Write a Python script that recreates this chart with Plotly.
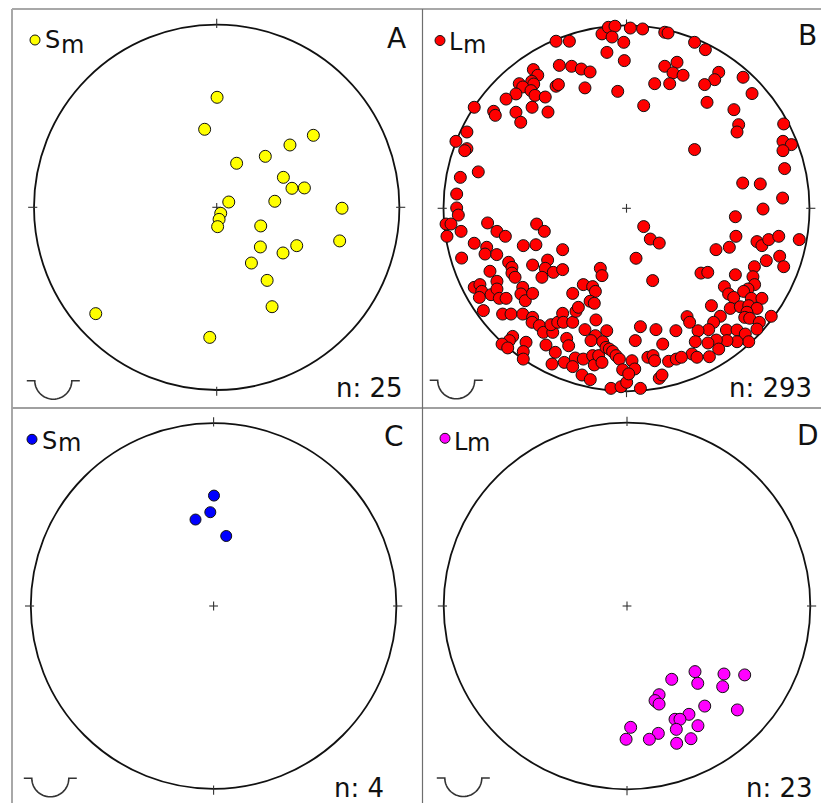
import numpy as np
import plotly.graph_objects as go

W, H = 821, 803

# ---------------- data: projected positions on the unit net (east, north) ----------------
A_east = [0.002, -0.066, 0.529, 0.401, 0.266, 0.109, 0.365, 0.412, 0.480, 0.066,
          0.318, 0.686, 0.022, 0.013, 0.005, 0.241, 0.673, 0.239, 0.438, 0.363,
          0.190, 0.276, 0.303, -0.662, -0.038]
A_north = [0.602, 0.427, 0.394, 0.341, 0.279, 0.241, 0.164, 0.104, 0.106, 0.029,
           0.033, -0.005, -0.033, -0.066, -0.106, -0.102, -0.184, -0.217, -0.210, -0.250,
           -0.305, -0.400, -0.544, -0.582, -0.712]

B_east = [
    -0.385, -0.312, -0.134, -0.099, -0.063, -0.079, -0.015, -0.107, -0.012, -0.048,
    -0.367, -0.300, -0.247, -0.199, -0.509, -0.485, -0.586, -0.518, -0.507, -0.567,
    -0.522, -0.500, -0.604, -0.658, -0.444, -0.385, -0.372, -0.227, -0.516, -0.429,
    -0.604, -0.578, -0.726, -0.717, -0.832, -0.872, -0.932, -0.872, -0.884, -0.810,
    -0.908, -0.928,
    0.021, 0.088, 0.209, 0.227, 0.372, 0.431, 0.209, 0.276, 0.254, 0.309,
    0.154, 0.236, 0.504, 0.482, 0.427, 0.637, 0.686, 0.094, 0.440, 0.587,
    0.613, 0.604, 0.859, 0.855, 0.901, 0.855, 0.864, 0.372, 0.635, 0.731,
    0.853,
    -0.928, -0.919, -0.986, -0.959, -0.981, -0.904, -0.759, -0.708, -0.662, -0.491,
    -0.449, -0.832, -0.764, -0.773, -0.709, -0.901, -0.564, -0.495, -0.349, -0.431,
    -0.513, -0.644, -0.626, -0.626, -0.609, -0.444, -0.400, -0.349, -0.462, -0.746,
    -0.708, -0.832, -0.801, -0.791, -0.804, -0.740, -0.708, -0.695, -0.658, -0.567,
    -0.577, -0.553, -0.513, -0.782, -0.677, -0.631, -0.567, -0.513, -0.516, -0.476,
    -0.454, -0.403, -0.413, -0.376, -0.349, -0.345, -0.294, -0.276, -0.263, -0.294,
    -0.236, -0.185, -0.170, -0.199, -0.176, -0.143, -0.134, -0.167, -0.227, -0.170,
    -0.108, -0.194, -0.130, -0.327, -0.316, -0.440, -0.389, -0.622, -0.640, -0.680,
    -0.649, -0.549, -0.564, -0.564, -0.407, -0.340, -0.280, -0.236, -0.294, -0.243,
    -0.198, -0.185, -0.176, -0.152, -0.134, -0.112, -0.094, -0.076, -0.057, -0.039,
    -0.021, -0.085, -0.030, 0.001,
    0.746, 0.595, 0.094, 0.130, 0.179, 0.598, 0.562, 0.489, 0.713, 0.740,
    0.777, 0.832, 0.944, 0.052, 0.764, 0.837, 0.859, 0.699, 0.407, 0.444,
    0.595, 0.691, 0.143, 0.700, 0.535, 0.558, 0.586, 0.664, 0.640, 0.682,
    0.740, 0.464, 0.567, 0.622, 0.668, 0.713, 0.658, 0.646, 0.673, 0.791,
    0.726, 0.713, 0.513, 0.331, 0.345, 0.476, 0.449, 0.391, 0.076, 0.161,
    0.270, 0.546, 0.604, 0.649, 0.668, 0.604, 0.549, 0.491, 0.445, 0.376,
    0.504, 0.048, 0.198, 0.358, 0.385, 0.453, 0.117, 0.145, 0.154, 0.230,
    0.272, 0.300, 0.030, 0.045, 0.012, 0.076, 0.179, 0.194,
]
B_north = [
    0.913, 0.913, 0.953, 0.989, 0.995, 0.936, 0.907, 0.852, 0.807, 0.639,
    0.781, 0.776, 0.761, 0.745, 0.758, 0.727, 0.681, 0.694, 0.679, 0.663,
    0.643, 0.617, 0.625, 0.597, 0.608, 0.667, 0.676, 0.658, 0.552, 0.526,
    0.525, 0.470, 0.530, 0.508, 0.552, 0.417, 0.366, 0.326, 0.315, 0.199,
    0.169, 0.078,
    0.985, 0.980, 0.962, 0.958, 0.907, 0.867, 0.776, 0.798, 0.740, 0.727,
    0.681, 0.681, 0.743, 0.703, 0.676, 0.716, 0.627, 0.561, 0.579, 0.539,
    0.457, 0.417, 0.461, 0.366, 0.348, 0.315, 0.217, 0.321, 0.138, 0.133,
    0.056,
    0.002, -0.037, -0.086, -0.086, -0.153, -0.126, -0.080, -0.126, -0.153, -0.086,
    -0.126, -0.191, -0.213, -0.250, -0.253, -0.272, -0.204, -0.199, -0.226, -0.283,
    -0.310, -0.295, -0.323, -0.354, -0.377, -0.328, -0.350, -0.335, -0.377, -0.344,
    -0.399, -0.432, -0.417, -0.454, -0.487, -0.472, -0.441, -0.492, -0.492, -0.432,
    -0.468, -0.505, -0.465, -0.559, -0.578, -0.578, -0.578, -0.596, -0.623, -0.641,
    -0.678, -0.678, -0.636, -0.623, -0.574, -0.623, -0.623, -0.563, -0.541, -0.465,
    -0.417, -0.428, -0.454, -0.508, -0.519, -0.328, -0.368, -0.610, -0.663, -0.696,
    -0.669, -0.723, -0.729, -0.711, -0.751, -0.747, -0.787, -0.700, -0.723, -0.742,
    -0.763, -0.732, -0.783, -0.824, -0.851, -0.842, -0.818, -0.824, -0.865, -0.911,
    -0.936, -0.805, -0.856, -0.805, -0.842, -0.760, -0.769, -0.782, -0.805, -0.824,
    -0.882, -0.984, -0.975, -0.951,
    -0.004, -0.046, -0.100, -0.168, -0.190, -0.153, -0.213, -0.226, -0.182, -0.204,
    -0.171, -0.153, -0.171, -0.273, -0.286, -0.262, -0.319, -0.319, -0.354, -0.350,
    -0.363, -0.374, -0.395, -0.417, -0.428, -0.468, -0.487, -0.441, -0.454, -0.492,
    -0.492, -0.532, -0.547, -0.538, -0.532, -0.547, -0.568, -0.596, -0.601, -0.590,
    -0.623, -0.660, -0.590, -0.592, -0.623, -0.623, -0.663, -0.669, -0.647, -0.663,
    -0.669, -0.665, -0.665, -0.687, -0.729, -0.729, -0.723, -0.720, -0.736, -0.729,
    -0.769, -0.723, -0.742, -0.796, -0.814, -0.811, -0.814, -0.805, -0.833, -0.836,
    -0.824, -0.814, -0.833, -0.878, -0.905, -0.984, -0.929, -0.911,
]

C_east = [0.002, -0.018, -0.099, 0.069]
C_north = [0.604, 0.513, 0.473, 0.383]

D_east = [0.164, 0.244, 0.371, 0.529, 0.642, 0.386, 0.522, 0.175, 0.153, 0.175,
          0.424, 0.602, 0.338, 0.262, 0.289, 0.387, 0.020, 0.269, 0.171, -0.005,
          0.122, 0.349, 0.271]
D_north = [-0.525, -0.400, -0.358, -0.371, -0.376, -0.422, -0.440, -0.484, -0.516, -0.535,
           -0.546, -0.567, -0.591, -0.618, -0.618, -0.653, -0.662, -0.673, -0.695, -0.727,
           -0.727, -0.724, -0.749]

panel_letters = ["A", "B", "C", "D"]
legend_main = ["S", "L", "S", "L"]
legend_sub = ["m", "m", "m", "m"]
n_labels = ["n: 25", "n: 293", "n: 4", "n: 23"]

# ---------------- layout (pixels) ----------------
panels = [
    dict(e=A_east, n=A_north, color="#ffff00", size=12,
         cell=(0, 422, 0, 408), c=(216.7, 207.3), R=182.7,
         dot=(35, 40), main=(44.4, 40.0), sub=(59.8, 45.0),
         letter=(408, 38.5), nlab=(405, 388.5), hemi=(53.3, 380.7)),
    dict(e=B_east, n=B_north, color="#ff0000", size=12,
         cell=(422, 821, 0, 408), c=(626.5, 208.3), R=183.0,
         dot=(440, 40.5), main=(448.3, 41.7), sub=(462.0, 45.0),
         letter=(819, 35.5), nlab=(814, 388.5), hemi=(456.2, 380.3)),
    dict(e=C_east, n=C_north, color="#0000ff", size=11,
         cell=(0, 422, 408, 803), c=(213.6, 606.0), R=182.8,
         dot=(32, 439.3), main=(41.1, 440.8), sub=(56.6, 443.4),
         letter=(406, 436.7), nlab=(386, 788.3), hemi=(50.3, 778.3)),
    dict(e=D_east, n=D_north, color="#ff00ff", size=12,
         cell=(422, 821, 408, 803), c=(627.0, 606.0), R=183.3,
         dot=(445, 438.3), main=(452.6, 441.7), sub=(466.2, 443.4),
         letter=(821, 435.3), nlab=(815, 788.3), hemi=(463.3, 778.0)),
]


def pxx(x):
    return x / W


def pxy(y):
    return 1 - y / H


fig = go.Figure()
shapes = []
annotations = []
FONT = "DejaVu Sans"

for i, p in enumerate(panels):
    k = "" if i == 0 else str(i + 1)
    x0, x1, y0, y1 = p["cell"]
    cx, cy = p["c"]
    R = p["R"]
    xa = dict(domain=[x0 / W, x1 / W], range=[(x0 - cx) / R, (x1 - cx) / R],
              visible=False, fixedrange=True)
    ya = dict(domain=[1 - y1 / H, 1 - y0 / H], range=[(cy - y1) / R, (cy - y0) / R],
              visible=False, fixedrange=True)
    fig.update_layout(**{"xaxis" + k: xa, "yaxis" + k: ya})
    xr, yr = "x" + k, "y" + k

    fig.add_trace(go.Scatter(
        x=p["e"], y=p["n"], mode="markers", xaxis=xr, yaxis=yr,
        marker=dict(size=p["size"], color=p["color"], line=dict(color="#111111", width=1)),
        hoverinfo="skip", showlegend=False))

    # primitive circle
    shapes.append(dict(type="circle", xref=xr, yref=yr, x0=-1, y0=-1, x1=1, y1=1,
                       line=dict(color="#111111", width=1.8), layer="below"))
    # ticks N S E W
    for (ux, uy) in [(0, 1), (0, -1), (1, 0), (-1, 0)]:
        shapes.append(dict(type="line", xref=xr, yref=yr,
                           x0=ux * 0.982, y0=uy * 0.982, x1=ux * 1.032, y1=uy * 1.032,
                           line=dict(color="#333333", width=1.1), layer="below"))
    # centre cross
    cs = 0.024
    shapes.append(dict(type="line", xref=xr, yref=yr, x0=-cs, y0=0, x1=cs, y1=0,
                       line=dict(color="#333333", width=1.1), layer="below"))
    shapes.append(dict(type="line", xref=xr, yref=yr, x0=0, y0=-cs, x1=0, y1=cs,
                       line=dict(color="#333333", width=1.1), layer="below"))

    # lower-hemisphere symbol (paper coords, built from pixel geometry)
    hx, hy = p["hemi"]
    r = 18.5
    f = 8.0
    pts = [(hx - r - f, hy)]
    for t in np.linspace(np.pi, 0, 31):
        pts.append((hx + r * np.cos(t), hy + r * np.sin(t)))
    pts.append((hx + r + f, hy))
    path = "M " + " L ".join(f"{pxx(a):.5f},{pxy(b):.5f}" for a, b in pts)
    shapes.append(dict(type="path", xref="paper", yref="paper", path=path,
                       line=dict(color="#333333", width=1.6)))

    # legend dot
    dx, dy = p["dot"]
    shapes.append(dict(type="circle", xref="paper", yref="paper",
                       xsizemode="pixel", ysizemode="pixel",
                       xanchor=pxx(dx), yanchor=pxy(dy), x0=-5, x1=5, y0=-5, y1=5,
                       fillcolor=p["color"], line=dict(color="#111111", width=1)))
    mx, my = p["main"]
    annotations.append(dict(text=legend_main[i], xref="paper", yref="paper",
                            x=pxx(mx), y=pxy(my), xanchor="left", yanchor="middle",
                            borderpad=0, showarrow=False,
                            font=dict(family=FONT, size=24, color="#111111")))
    sx, sy = p["sub"]
    annotations.append(dict(text=legend_sub[i], xref="paper", yref="paper",
                            x=pxx(sx), y=pxy(sy), xanchor="left", yanchor="middle",
                            borderpad=0, showarrow=False,
                            font=dict(family=FONT, size=24, color="#111111")))
    lx, ly = p["letter"]
    annotations.append(dict(text=panel_letters[i], xref="paper", yref="paper",
                            x=pxx(lx), y=pxy(ly), xanchor="right", yanchor="middle",
                            showarrow=False, font=dict(family=FONT, size=28, color="#111111")))
    nx, ny = p["nlab"]
    annotations.append(dict(text=n_labels[i], xref="paper", yref="paper",
                            x=pxx(nx), y=pxy(ny), xanchor="right", yanchor="middle",
                            showarrow=False, font=dict(family=FONT, size=26, color="#111111")))

# frame lines
frame = [
    (12, 9, 12, 803, "#a8a8a8", 2),
    (12, 9, 821, 9, "#a8a8a8", 2),
    (12, 408, 821, 408, "#a0a0a0", 2),
    (422.5, 9, 422.5, 803, "#6e6e6e", 1.2),
]
for (a, b, c, d, col, w) in frame:
    shapes.append(dict(type="line", xref="paper", yref="paper",
                       x0=pxx(a), y0=pxy(b), x1=pxx(c), y1=pxy(d),
                       line=dict(color=col, width=w)))

fig.update_layout(width=W, height=H, margin=dict(l=0, r=0, t=0, b=0),
                  paper_bgcolor="white", plot_bgcolor="rgba(0,0,0,0)",
                  shapes=shapes, annotations=annotations, showlegend=False)

fig.write_html("out.html", config={"displayModeBar": False},
               post_script="document.body.style.margin='0px';"
                           "document.body.style.overflow='hidden';")
